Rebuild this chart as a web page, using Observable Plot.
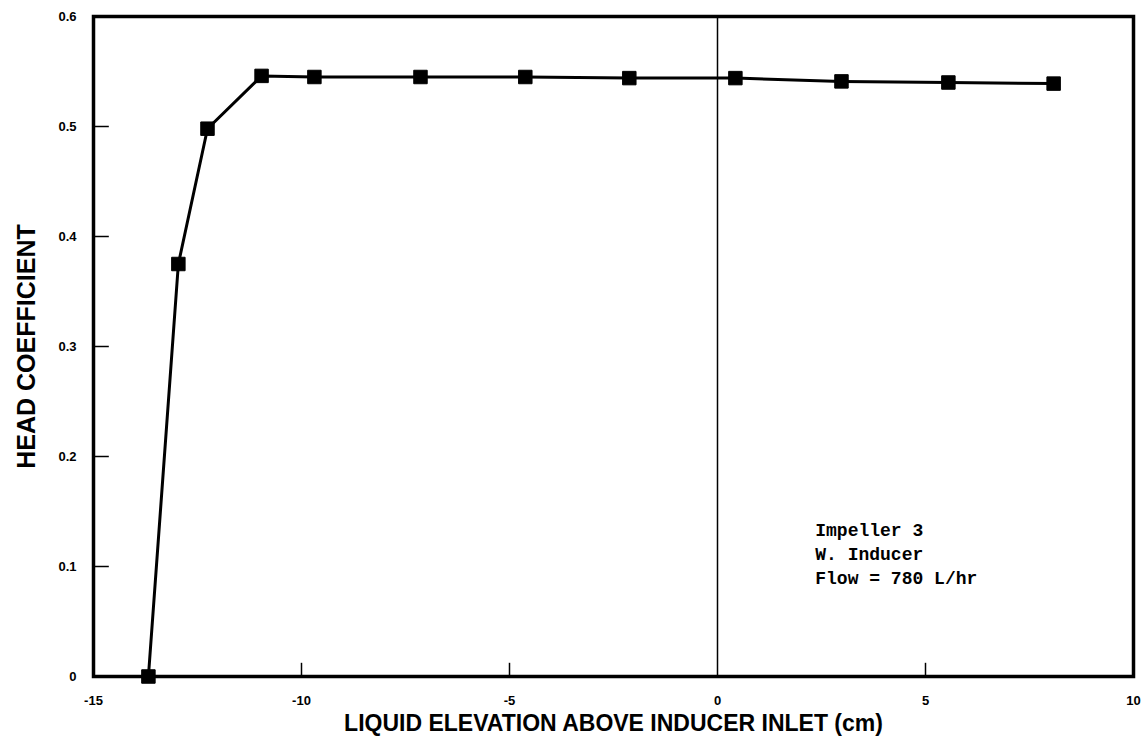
<!DOCTYPE html>
<html>
<head>
<meta charset="utf-8">
<script src="https://cdn.jsdelivr.net/npm/d3@7"></script>
<script src="https://cdn.jsdelivr.net/npm/@observablehq/plot@0.6"></script>
<style>
  html, body { margin: 0; padding: 0; background: #fff; }
  #chart { width: 1142px; height: 742px; }
</style>
</head>
<body>
<div id="chart"></div>
<script>
// Liquid elevation above inducer inlet (cm)
const elevation = [-13.68, -12.96, -12.26, -10.96, -9.69, -7.14, -4.62, -2.12, 0.43, 2.98, 5.55, 8.08];
// Head coefficient
const headCoef = [0.000, 0.375, 0.498, 0.546, 0.545, 0.545, 0.545, 0.544, 0.544, 0.541, 0.540, 0.539];

const xTicks = [-15, -10, -5, 0, 5, 10];
const yTicks = [0, 0.1, 0.2, 0.3, 0.4, 0.5, 0.6];
const yTickLabels = ["0", "0.1", "0.2", "0.3", "0.4", "0.5", "0.6"];
const xLabel = "LIQUID ELEVATION ABOVE INDUCER INLET (cm)";
const yLabel = "HEAD COEFFICIENT";
const noteLines = ["Impeller 3", "W. Inducer", "Flow = 780 L/hr"];
const noteAt = {x: 2.35, y: 0.143};

const data = elevation.map((x, i) => ({x, y: headCoef[i]}));

const chart = Plot.plot({
  width: 1142,
  height: 742,
  marginLeft: 93,
  marginRight: 9,
  marginTop: 16,
  marginBottom: 66,
  style: {background: "#fff", color: "#000", fontFamily: "'Liberation Sans', Arial, sans-serif"},
  x: {domain: [-15, 10]},
  y: {domain: [0, 0.6]},
  marks: [
    // inward ticks
    Plot.ruleY(yTicks.slice(1, -1), {x1: -15, x2: -14.62, stroke: "#000", strokeWidth: 1.5}),
    Plot.ruleX(xTicks.filter(d => d !== -15 && d !== 0 && d !== 10), {y1: 0, y2: 0.012, stroke: "#000", strokeWidth: 1.5}),
    // vertical line at zero
    Plot.ruleX([0], {stroke: "#000", strokeWidth: 1.5}),
    Plot.axisY({
      ticks: yTicks, tickSize: 0, tickPadding: 17,
      tickFormat: d => yTickLabels[yTicks.indexOf(d)],
      fontSize: 13, fontWeight: "bold",
      label: yLabel, labelAnchor: "center", labelArrow: "none", labelOffset: 76
    }),
    Plot.axisX({
      ticks: xTicks, tickSize: 0, tickPadding: 19,
      tickFormat: d => String(d),
      fontSize: 13, fontWeight: "bold",
      label: xLabel, labelAnchor: "center", labelArrow: "none", labelOffset: 54
    }),
    Plot.line(data, {x: "x", y: "y", stroke: "#000", strokeWidth: 3}),
    Plot.dot(data, {x: "x", y: "y", symbol: "square", r: 7.6, fill: "#000", stroke: "#000", strokeWidth: 1, strokeLinejoin: "round"}),
    Plot.text([noteLines.join("\n")], {
      x: noteAt.x, y: noteAt.y, text: d => d,
      textAnchor: "start", lineAnchor: "top", lineHeight: 1.32,
      fontFamily: "'Liberation Mono', 'Courier New', monospace", fontSize: 18, fontWeight: "bold", fill: "#000"
    }),
    Plot.frame({stroke: "#000", strokeWidth: 3.5})
  ]
});

d3.select(chart).selectAll("g[aria-label='y-axis label'] text")
  .style("font-size", "25px").style("font-weight", "bold");
d3.select(chart).selectAll("g[aria-label='x-axis label'] text")
  .style("font-size", "23px").style("font-weight", "bold");

document.getElementById("chart").appendChild(chart);
</script>
</body>
</html>
